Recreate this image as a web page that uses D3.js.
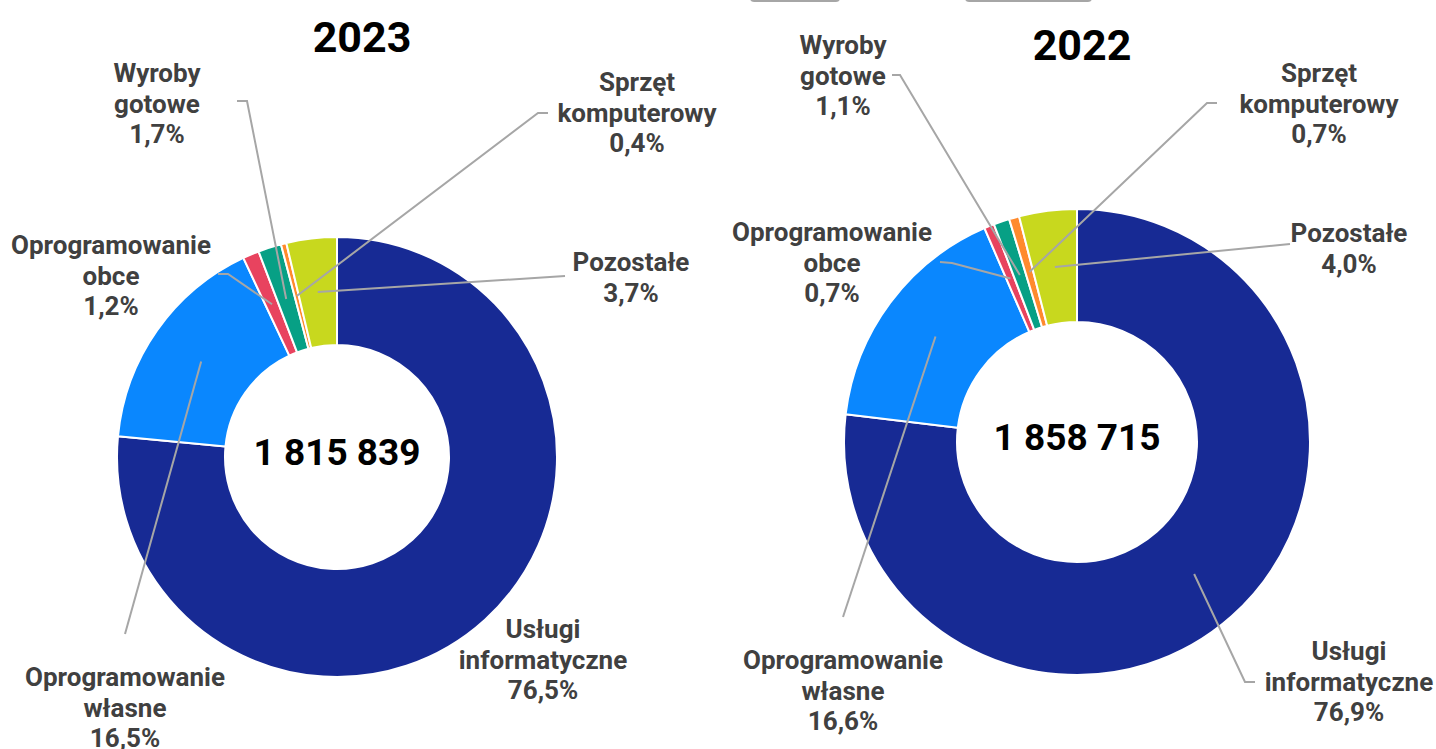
<!DOCTYPE html>
<html>
<head>
<meta charset="utf-8">
<script src="https://cdn.jsdelivr.net/npm/d3@7"></script>
<style>
  html, body { margin: 0; padding: 0; background: #fff; }
  svg { display: block; font-family: Roboto, "Noto Sans", sans-serif; }
</style>
</head>
<body>
<div id="chart"></div>
<script>
// Categories, clockwise from 12 o'clock
const categories = ["Usługi informatyczne", "Oprogramowanie własne", "Oprogramowanie obce", "Wyroby gotowe", "Sprzęt komputerowy", "Pozostałe"];
const labelLines = [["Usługi", "informatyczne"], ["Oprogramowanie", "własne"], ["Oprogramowanie", "obce"], ["Wyroby", "gotowe"], ["Sprzęt", "komputerowy"], ["Pozostałe"]];
const colors = ["#172a94", "#0a87fe", "#e8435f", "#07a085", "#ff8a2d", "#c8d81e"];

const years = ["2023", "2022"];
const values2023 = [76.5, 16.5, 1.2, 1.7, 0.4, 3.7];
const values2022 = [76.9, 16.6, 0.7, 1.1, 0.7, 4.0];
const totals = ["1 815 839", "1 858 715"];

const width = 1436, height = 749;

// layout of each donut: centre, radii, title, label anchors (x, first-line y) and leader elbows
const layouts = [
    {
        cx: 337, cy: 457, outer: 220, inner: 112,
        title: [362, 37],
        labels: [[543, 629], [125, 677], [111, 245], [157, 73], [637, 82], [631, 262]],
        elbows: [null, [[125, 634]], [[228, 274], [218, 274]], [[247, 101], [237, 101]], [[538, 113], [548, 113]], [[565, 276]]]
    },
    {
        cx: 1077, cy: 442, outer: 233, inner: 120,
        title: [1082, 45],
        labels: [[1349, 651], [843, 660], [832, 232], [843, 45], [1319, 73], [1349, 233]],
        elbows: [[[1245, 682], [1255, 682]], [[843, 617]], [[952, 263], [940, 262]], [[900, 75], [892, 75]], [[1207, 103], [1217, 103]], [[1290, 244]]]
    }
];

const svg = d3.select("#chart").append("svg")
    .attr("width", width)
    .attr("height", height);

// grey bars cut off at the top edge
svg.append("g").selectAll("rect")
    .data([[750, 840], [965, 1092]])
    .enter().append("rect")
    .attr("x", d => d[0]).attr("y", -9)
    .attr("width", d => d[1] - d[0]).attr("height", 11)
    .attr("rx", 4)
    .attr("fill", "#a6a6a6");

const pie = d3.pie().sort(null).value(d => d);
const fmt = v => d3.format(".1f")(v).replace(".", ",") + "%";

[values2023, values2022].forEach((values, i) => {
    const L = layouts[i];
    const arc = d3.arc().innerRadius(L.inner).outerRadius(L.outer);
    const arcs = pie(values);

    const g = svg.append("g");
    const donut = g.append("g").attr("transform", `translate(${L.cx},${L.cy})`);

    donut.selectAll("path")
        .data(arcs)
        .enter().append("path")
        .attr("d", arc)
        .attr("fill", (d, j) => colors[j])
        .attr("stroke", "#fff")
        .attr("stroke-width", 2)
        .attr("stroke-linejoin", "round");

    // leader lines from slice centroid to the label
    g.append("g").selectAll("polyline")
        .data(arcs.map((d, j) => ({ d, j })).filter(o => L.elbows[o.j]))
        .enter().append("polyline")
        .attr("points", o => {
            const c = arc.centroid(o.d);
            const pts = [[L.cx + c[0], L.cy + c[1]]].concat(L.elbows[o.j]);
            return pts.map(p => p.join(",")).join(" ");
        })
        .attr("fill", "none")
        .attr("stroke", "#a6a6a6")
        .attr("stroke-width", 2);

    // labels
    const lbl = g.append("g").selectAll("text")
        .data(values)
        .enter().append("text")
        .attr("text-anchor", "middle")
        .attr("font-size", 26)
        .attr("font-weight", "bold")
        .attr("fill", "#404040");
    lbl.each(function (v, j) {
        const t = d3.select(this);
        const lines = labelLines[j].concat([fmt(v)]);
        lines.forEach((s, k) => {
            t.append("tspan")
                .attr("x", L.labels[j][0])
                .attr("y", L.labels[j][1] + k * 30.5)
                .attr("dy", "0.35em")
                .text(s);
        });
    });

    // title
    g.append("text")
        .attr("x", L.title[0]).attr("y", L.title[1])
        .attr("dy", "0.35em")
        .attr("text-anchor", "middle")
        .attr("font-size", 43)
        .attr("font-weight", "bold")
        .attr("fill", "#000")
        .text(years[i]);

    // total in the centre
    g.append("text")
        .attr("x", L.cx).attr("y", L.cy - 5)
        .attr("dy", "0.35em")
        .attr("text-anchor", "middle")
        .attr("font-size", 37)
        .attr("font-weight", "bold")
        .attr("fill", "#000")
        .text(totals[i]);
});
</script>
</body>
</html>
